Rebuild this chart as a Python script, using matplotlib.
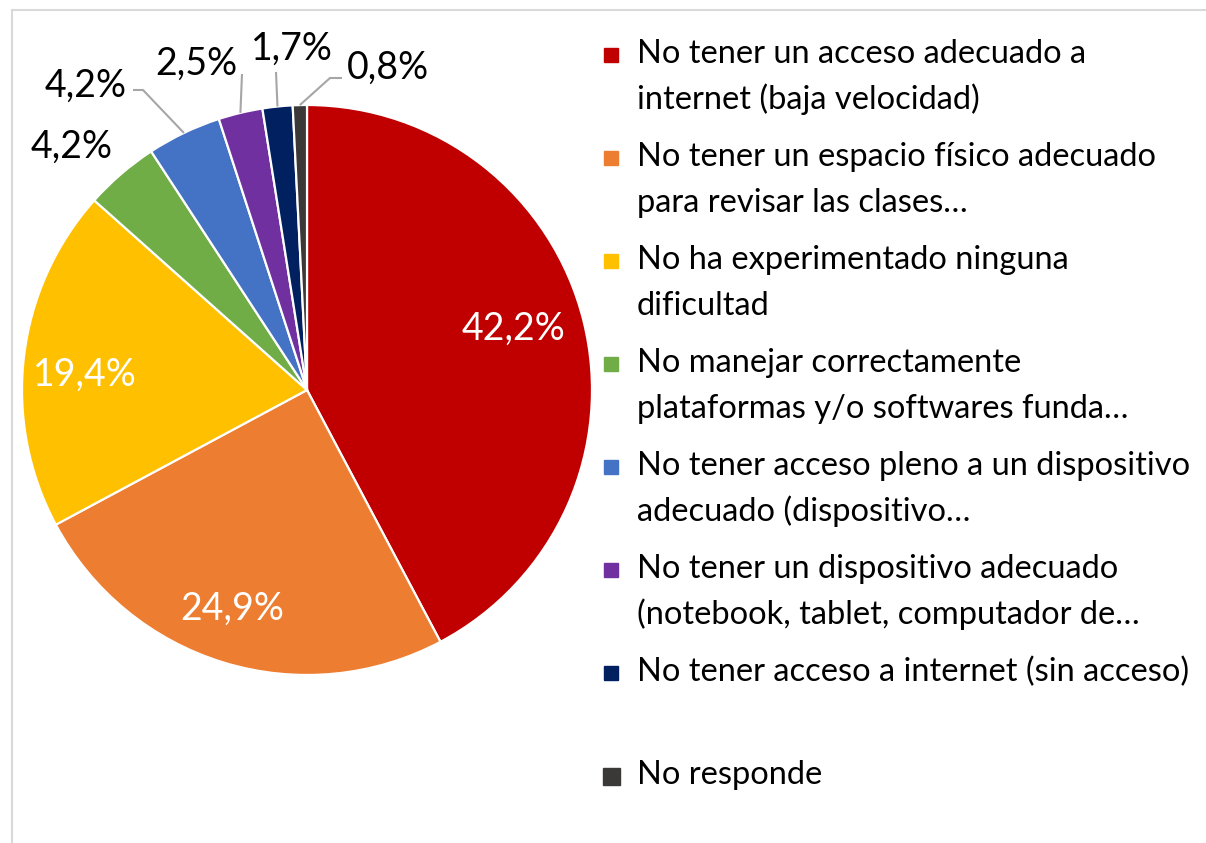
import numpy as np
import matplotlib
matplotlib.use('Agg')
import matplotlib.pyplot as plt
from matplotlib.patches import Rectangle

plt.rcParams['font.family'] = ['Lato', 'DejaVu Sans']

# survey answers, percentages
categories = [
    "No tener un acceso adecuado a\ninternet (baja velocidad)",
    "No tener un espacio físico adecuado\npara revisar las clases…",
    "No ha experimentado ninguna\ndificultad",
    "No manejar correctamente\nplataformas y/o softwares funda…",
    "No tener acceso pleno a un dispositivo\nadecuado (dispositivo…",
    "No tener un dispositivo adecuado\n(notebook, tablet, computador de…",
    "No tener acceso a internet (sin acceso)",
    "No responde",
]
values = [42.2, 24.9, 19.4, 4.2, 4.2, 2.5, 1.7, 0.8]
colors = ['#C00000', '#ED7D31', '#FFC000', '#70AD47',
          '#4472C4', '#7030A0', '#002060', '#3B3838']

W, H = 1206, 843
CX, CY, R = 307, 390, 285

fig = plt.figure(figsize=(W / 100, H / 100), dpi=100)
ax = fig.add_axes([0, 0, 1, 1])

wedges, _ = ax.pie(values, colors=colors, startangle=90, counterclock=False,
                   radius=1.0, normalize=True,
                   wedgeprops=dict(edgecolor='white', linewidth=1.6))

# pie() resets the limits, so place the unit circle afterwards
ax.set_xlim(-CX / R, (W - CX) / R)
ax.set_ylim(-(H - CY) / R, CY / R)
ax.set_aspect('equal')
ax.axis('off')


def px(x, y):
    # pixel position (from top-left) to data units
    return (x - CX) / R, (CY - y) / R


def fmt(v):
    return f"{v:.1f}%".replace('.', ',')


mids = [np.deg2rad((w.theta1 + w.theta2) / 2) for w in wedges]

# label anchors (centre x, baseline y) in pixels; leader path runs from the
# text towards the slice edge
lead_color = '#A6A6A6'
label_pos = {
    0: dict(text=(513, 340), path=None, color='white'),
    1: dict(text=(232, 620), path=None, color='white'),
    2: dict(text=(85, 386), path=None, color='white'),
    3: dict(text=(72, 158), path=None, color='black'),
    4: dict(text=(86, 97), path=[(133, 90), (143, 90)], color='black'),
    5: dict(text=(196, 75), path=[(242, 74)], color='black'),
    6: dict(text=(292, 60), path=[(276, 72)], color='black'),
    7: dict(text=(388, 79), path=[(342, 78), (330, 78)], color='black'),
}
for i, spec in label_pos.items():
    tx, ty = px(*spec['text'])
    ax.text(tx, ty, fmt(values[i]), color=spec['color'], fontsize=27,
            ha='center', va='baseline')
    if spec['path']:
        a = mids[i]
        pts = [px(*p) for p in spec['path']] + [(np.cos(a), np.sin(a))]
        xs, ys = zip(*pts)
        ax.plot(xs, ys, color=lead_color, lw=1.5, solid_capstyle='butt')

# legend drawn by hand so wrapped lines keep the marker on the first line
step = 103
for i, (lab, c) in enumerate(zip(categories, colors)):
    base = 63 + i * step
    size = 17 if i == len(categories) - 1 else 14
    fig.patches.append(Rectangle(((611 - size / 2) / W, 1 - (base - 8 + size / 2) / H),
                                 size / W, size / H, color=c,
                                 transform=fig.transFigure, figure=fig))
    for j, line in enumerate(lab.split('\n')):
        fig.text(637 / W, 1 - (base + j * 46) / H, line, fontsize=23.5,
                 ha='left', va='baseline', color='black')

# outer frame (only top and left edges fall inside the canvas)
fig.patches.append(Rectangle((12 / W, -0.1), 1.2, 1 - 10 / H + 0.1,
                             fill=False, edgecolor='#D9D9D9', lw=1.5,
                             transform=fig.transFigure, figure=fig))

fig.savefig('out.png', dpi=100, facecolor='white')
